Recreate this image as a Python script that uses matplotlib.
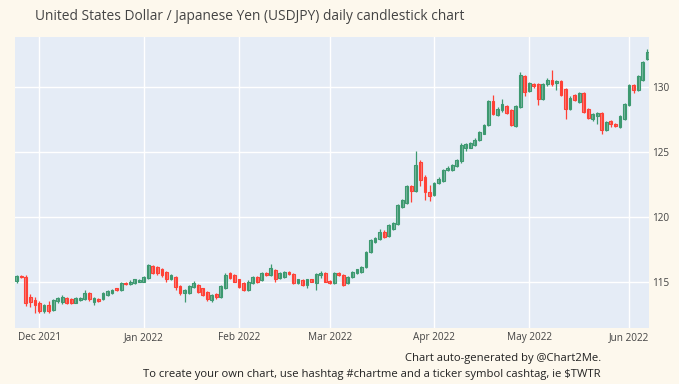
import numpy as np
import pandas as pd
import matplotlib
matplotlib.use('Agg')
import matplotlib.pyplot as plt

plt.rcParams['font.family'] = ['Open Sans', 'DejaVu Sans']

# trading days (weekends skipped, like the plotly rangebreaks)
dates = pd.bdate_range('2021-11-24', '2022-06-07')

open_ = [115.05, 115.45, 115.38, 113.85, 113.60, 113.34, 112.72, 113.18, 112.82, 113.55,
         113.46, 113.77, 113.65, 113.40, 113.60, 113.65, 114.10, 113.42, 113.70, 113.65,
         113.98, 114.10, 114.50, 114.36, 114.92, 114.80, 114.92, 115.00, 115.00, 115.26,
         116.20, 116.15, 115.95, 115.77, 115.18, 115.38, 114.67, 114.15, 114.10, 114.62,
         114.75, 114.50, 114.23, 113.60, 114.05, 113.80, 114.50, 115.65, 115.50, 115.18,
         114.88, 114.36, 114.88, 115.34, 115.13, 115.65, 115.50, 115.90, 115.26, 115.38,
         115.72, 115.60, 114.92, 115.13, 114.75, 115.18, 114.92, 115.50, 115.70, 115.08,
         114.88, 115.70, 115.50, 114.88, 115.34, 115.65, 115.77, 116.15, 117.30, 118.08,
         118.26, 118.85, 118.50, 119.10, 119.44, 120.77, 121.08, 122.36, 122.00, 124.23,
         123.08, 121.92, 121.67, 122.57, 122.77, 123.60, 123.64, 123.90, 124.28, 125.34,
         125.34, 125.50, 125.90, 126.41, 127.05, 128.92, 127.82, 128.20, 128.50, 128.20,
         126.98, 128.46, 130.82, 129.70, 130.20, 130.20, 129.10, 130.20, 130.57, 130.30,
         130.46, 129.88, 128.34, 129.36, 128.85, 129.50, 128.34, 127.50, 127.75, 128.00,
         126.67, 127.38, 127.18, 126.92, 127.50, 128.60, 130.13, 129.80, 130.57, 132.18]
high = [115.52, 115.52, 115.50, 114.05, 113.85, 113.55, 113.30, 113.55, 113.70, 113.85,
        114.00, 113.85, 113.72, 113.82, 113.85, 114.36, 114.20, 113.80, 113.78, 114.20,
        114.38, 114.48, 114.55, 114.95, 114.98, 115.10, 115.25, 115.20, 115.42, 116.40,
        116.30, 116.22, 116.05, 115.85, 115.60, 115.45, 114.75, 114.45, 114.75, 115.05,
        114.85, 114.55, 114.30, 114.05, 114.12, 114.75, 115.65, 115.72, 115.58, 115.25,
        114.95, 115.10, 115.45, 115.45, 115.72, 115.72, 116.36, 116.00, 115.72, 115.85,
        115.80, 115.68, 115.25, 115.20, 115.25, 115.25, 115.70, 115.80, 115.78, 115.15,
        115.72, 115.78, 115.58, 115.42, 115.85, 116.02, 116.22, 117.38, 118.30, 118.48,
        119.10, 118.95, 119.45, 119.58, 120.98, 121.40, 122.45, 122.45, 125.08, 124.35,
        123.20, 122.44, 122.65, 123.05, 123.68, 123.90, 124.05, 124.45, 125.72, 125.70,
        125.78, 126.05, 126.62, 127.12, 129.00, 129.41, 128.45, 129.10, 128.60, 128.30,
        128.60, 131.15, 130.90, 130.40, 130.30, 130.30, 130.30, 130.70, 131.28, 130.55,
        130.55, 129.95, 129.30, 129.45, 129.65, 129.60, 128.40, 128.00, 128.05, 128.10,
        127.40, 127.45, 127.25, 127.82, 128.80, 130.20, 130.20, 130.90, 132.00, 132.95]
low = [114.88, 115.30, 113.12, 113.03, 112.57, 112.60, 112.58, 112.60, 112.78, 113.40,
       113.30, 113.30, 113.25, 113.35, 113.55, 113.60, 113.55, 113.20, 113.45, 113.58,
       113.92, 114.02, 114.28, 114.30, 114.72, 114.75, 114.85, 114.95, 114.95, 115.20,
       115.60, 115.55, 115.40, 115.00, 115.10, 114.36, 114.00, 113.46, 114.05, 114.55,
       114.15, 113.90, 113.55, 113.45, 113.70, 113.75, 114.45, 115.18, 114.95, 114.55,
       114.30, 114.30, 114.82, 114.92, 115.08, 115.42, 115.45, 115.00, 115.18, 115.30,
       115.52, 114.85, 114.85, 114.68, 114.50, 114.95, 114.40, 115.30, 114.95, 114.80,
       114.82, 115.42, 114.68, 114.80, 115.28, 115.58, 115.70, 116.08, 117.22, 118.00,
       118.20, 118.35, 118.42, 119.02, 119.38, 120.70, 121.00, 121.15, 121.90, 122.40,
       121.28, 121.25, 121.60, 122.50, 122.70, 123.52, 123.55, 123.85, 124.18, 125.10,
       125.28, 125.45, 125.85, 126.35, 127.00, 127.85, 127.75, 128.10, 127.90, 127.00,
       126.90, 128.40, 129.30, 129.60, 129.95, 128.62, 129.00, 130.10, 130.10, 129.80,
       129.30, 127.50, 128.25, 128.90, 128.80, 128.00, 127.55, 127.40, 127.13, 126.36,
       126.60, 126.90, 126.90, 126.85, 127.45, 128.55, 129.55, 129.70, 130.50, 132.10]
close = [115.42, 115.36, 113.35, 113.48, 113.20, 112.72, 113.18, 112.75, 113.58, 113.72,
         113.82, 113.40, 113.36, 113.74, 113.75, 114.15, 113.65, 113.75, 113.52, 114.15,
         114.30, 114.40, 114.36, 114.88, 114.80, 115.00, 115.18, 115.13, 115.34, 116.28,
         115.70, 115.65, 115.50, 115.18, 115.50, 114.62, 114.10, 114.36, 114.67, 114.88,
         114.23, 113.98, 113.65, 113.98, 113.80, 114.67, 115.50, 115.26, 115.00, 114.62,
         114.36, 115.00, 115.38, 115.00, 115.65, 115.50, 116.03, 115.18, 115.65, 115.77,
         115.60, 114.92, 115.18, 114.75, 115.18, 115.00, 115.60, 115.65, 115.00, 114.88,
         115.65, 115.50, 114.75, 115.34, 115.77, 115.95, 116.15, 117.30, 118.20, 118.40,
         118.85, 118.46, 119.36, 119.50, 120.90, 121.28, 122.36, 122.00, 123.98, 122.82,
         121.92, 121.60, 122.57, 122.95, 123.60, 123.80, 123.98, 124.36, 125.50, 125.60,
         125.69, 125.95, 126.54, 127.05, 128.92, 127.95, 128.33, 128.72, 128.00, 127.05,
         128.50, 130.90, 129.62, 130.30, 130.05, 129.10, 130.20, 130.57, 130.20, 130.50,
         129.36, 128.34, 129.18, 128.98, 129.54, 128.08, 127.65, 127.90, 128.00, 126.72,
         127.30, 127.13, 126.98, 127.75, 128.72, 130.13, 129.75, 130.82, 131.92, 132.69]

month_starts = ['2021-12-01', '2022-01-01', '2022-02-01', '2022-03-01',
                '2022-04-01', '2022-05-01', '2022-06-01']
y_ticks = [115, 120, 125, 130]

df = pd.DataFrame({'open': open_, 'high': high, 'low': low, 'close': close}, index=dates)
x = np.arange(len(df))
up = df.close >= df.open

inc_col = '#3D9970'
dec_col = '#FF4136'
paper = '#fdf8ed'

fig = plt.figure(figsize=(6.79, 3.84), dpi=100, facecolor=paper)
ax = fig.add_axes([15 / 679, 1 - 328 / 384, 634 / 679, 291 / 384])
ax.set_facecolor('#E5ECF6')

for is_up, col in [(True, inc_col), (False, dec_col)]:
    m = (up == is_up).values
    ax.vlines(x[m], df.low[m], df.high[m], color=col, lw=0.9, zorder=2)
    body_lo = np.minimum(df.open[m], df.close[m])
    body_h = np.abs(df.close[m] - df.open[m])
    ax.bar(x[m], body_h, bottom=body_lo, width=0.62, color=col, alpha=0.6,
           lw=0, zorder=3)
    ax.bar(x[m], body_h, bottom=body_lo, width=0.62, fill=False, edgecolor=col,
           lw=0.8, zorder=4)

# month ticks: weekend dates collapse onto the next trading day
tick_pos = [dates.searchsorted(pd.Timestamp(d)) for d in month_starts]
tick_lab = [pd.Timestamp(d).strftime('%b %Y') for d in month_starts]
ax.set_xticks(tick_pos)
ax.set_xticklabels(tick_lab)
ax.set_yticks(y_ticks)
ax.yaxis.tick_right()

ax.set_xlim(-0.4, len(df) - 0.6)
ax.set_ylim(111.44, 133.85)
ax.grid(True, color='white', lw=1.0, zorder=0)
ax.set_axisbelow(True)
for s in ax.spines.values():
    s.set_visible(False)
ax.tick_params(length=0, labelsize=7.2, colors='#444444')
ax.tick_params(axis='y', pad=2)
ax.tick_params(axis='x', pad=3)

fig.text(35 / 679, 1 - 16 / 384, 'United States Dollar / Japanese Yen (USDJPY) daily candlestick chart',
         fontsize=9.9, color='#444444', va='center', ha='left')
fig.text(601 / 679, 1 - 358 / 384, 'Chart auto-generated by @Chart2Me.',
         fontsize=8.1, color='#222222', va='center', ha='right')
fig.text(601 / 679, 1 - 374 / 384,
         r'To create your own chart, use hashtag #chartme and a ticker symbol cashtag, ie \$TWTR',
         fontsize=8.1, color='#222222', va='center', ha='right')

fig.savefig('out.png', dpi=100, facecolor=paper)
